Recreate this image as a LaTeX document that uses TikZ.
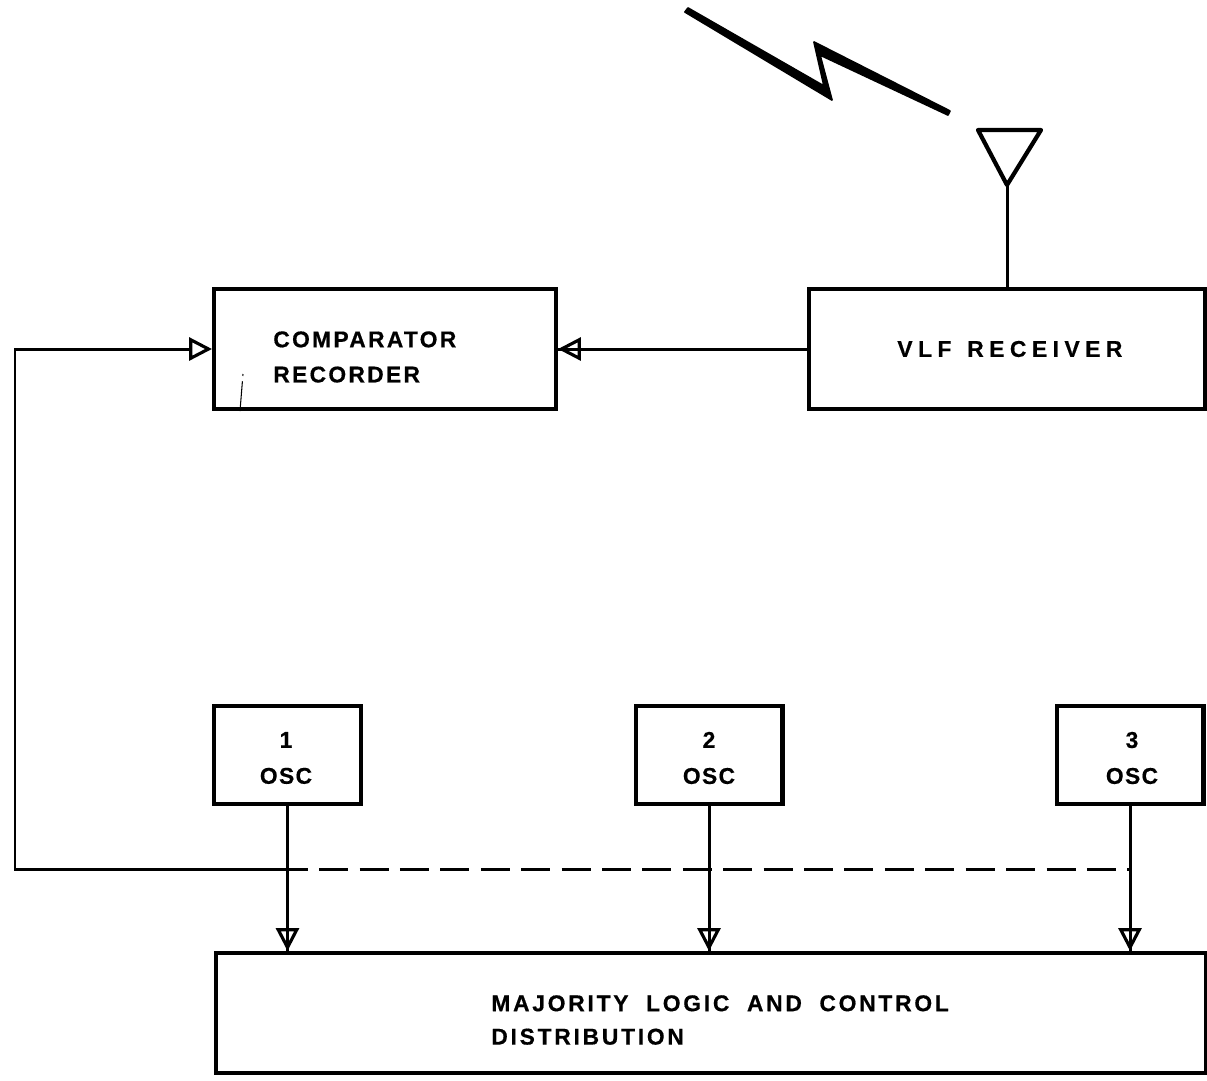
\documentclass[tikz,border=0pt]{standalone}
\usepackage{fontspec}
\setmainfont{Liberation Sans}[LetterSpace=12,BoldFeatures={FakeBold=0.5}]
\usetikzlibrary{arrows.meta}
\begin{document}
\begin{tikzpicture}[
        x=0.02cm, y=-0.02cm,
        block/.style={rectangle, draw=black, line width=2.3pt, inner sep=0pt},
        caption/.style={inner sep=0pt, font=\bfseries\fontsize{13}{19}\selectfont, align=left, anchor=west},
        osclabel/.style={inner sep=0pt, font=\bfseries\fontsize{13}{20.5}\selectfont\addfontfeature{LetterSpace=6}, align=center},
        wire/.style={line width=1.7pt},
        arrow/.style={wire, -{Triangle[open, length=13pt, width=13pt, line width=1.8pt]}},
        through/.style={arrow, postaction={draw, -}}
    ]
    \useasboundingbox (0,0) rectangle (1207,1080);

    % receiver chain
    \node[block, minimum width=6.84cm, minimum height=2.4cm] (comparator) at (385,349) {};
    \node[block, minimum width=7.92cm, minimum height=2.4cm] (receiver) at (1007,349) {};
    \node[caption, font=\bfseries\fontsize{13}{20}\selectfont\addfontfeature{LetterSpace=10}] (comparatorlabel) at (273,357) {COMPARATOR\\RECORDER};
    \node[caption, font=\bfseries\fontsize{13}{19}\selectfont\addfontfeature{LetterSpace=24}] (receiverlabel) at (897,349) {VLF\hspace{9pt}RECEIVER};

    % oscillators
    \node[block, minimum width=2.94cm, minimum height=1.96cm] (osc1) at (287.5,755) {};
    \node[block, minimum width=2.94cm, minimum height=1.96cm] (osc2) at (709,755) {};
    \node[block, minimum width=2.94cm, minimum height=1.96cm] (osc3) at (1130,755) {};
    \node[osclabel] (osc1label) at (286,758) {1\\OSC};
    \node[osclabel] (osc2label) at (709,758) {2\\OSC};
    \node[osclabel] (osc3label) at (1132,758) {3\\OSC};

    \node[block, minimum width=19.8cm, minimum height=2.4cm] (logic) at (711,1013) {};
    \node[caption] (logiclabel) at (491,1020) {MAJORITY\hspace{10pt}LOGIC\hspace{10pt}AND\hspace{10pt}CONTROL\\DISTRIBUTION};

    % antenna and signal
    \coordinate (tip) at (receiver.north |- 0,185);
    \draw[line width=2.4pt, line join=round] (978,130) -- (1041,130) -- (tip) -- cycle;
    \draw[wire] (tip) -- (receiver.north);
    \fill[draw=black, line width=1pt, line join=round] (688,8) -- (824,86) -- (814,42) -- (950,111) -- (948,115)
        -- (820,55) -- (832,100) -- (685,12) -- cycle;

    \draw[through] (receiver.west |- comparator.east) -- (comparator.east);
    \draw[through] (osc1.south) -- (osc1.south |- logic.north);
    \draw[through] (osc2.south) -- (osc2.south |- logic.north);
    \draw[through] (osc3.south) -- (osc3.south |- logic.north);

    % feedback line
    \coordinate (tap1) at (osc1.south |- 0,869);
    \coordinate (tap3) at (osc3.south |- 0,869);
    \coordinate (corner) at (15,869);
    \draw[wire, dash pattern=on 16.5pt off 6.5pt, dash phase=5pt] (tap1) -- (tap3);
    \draw[arrow] (tap1) -- (corner) |- (comparator.west);

    \draw[line width=0.6pt, dash pattern=on 17pt off 3pt] (comparator.south -| 240,0) -- (243,374);
\end{tikzpicture}
\end{document}
